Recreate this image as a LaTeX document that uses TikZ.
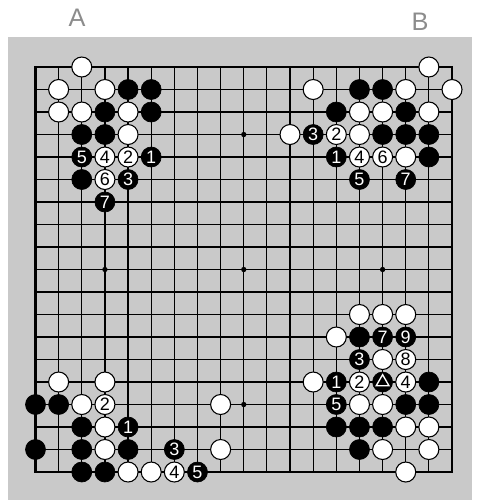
\documentclass[tikz,border=0pt]{standalone}
\usepackage{fontspec}
\setmainfont{Liberation Sans}
\usepackage{tikz}
\usetikzlibrary{shapes.geometric}

\begin{document}
\begin{tikzpicture}[
  x=17.355pt, y=-16.875pt,
  stone/.style={circle, minimum size=15pt, inner sep=0pt, font=\fontsize{13.5}{13.5}\selectfont},
  wst/.style={stone, draw=black, line width=0.8pt, fill=white},
  bst/.style={stone, draw=black, line width=0.5pt, fill=black, text=white},
  hoshi/.style={circle, fill=black, inner sep=0pt, minimum size=4pt},
  lbl/.style={font=\fontsize{19}{19}\selectfont, text=black!45},
]
\useasboundingbox (-0.534,-1.978) rectangle (20.166,20.244);
\fill[black!21] (-0.188,-0.333) rectangle (19.864,20.244);
% board
\foreach \i in {1,...,19} {
  \draw[line width=0.9pt] (\i,1) -- (\i,19);
  \draw[line width=0.9pt] (1,\i) -- (19,\i);
}
\draw[line width=1.6pt] (1,1) rectangle (19,19);
\foreach \c/\r in {4/4,10/4,16/4,4/10,10/10,16/10,4/16,10/16,16/16}
  \node[hoshi] (h\c-\r) at (\c,\r) {};
\node[lbl] (diaA) at (2.793,-1.178) {A};
\node[lbl] (diaB) at (17.616,-1.0) {B};
% plain stones
\foreach \c/\r in {5/2,6/2,4/3,6/3,3/4,4/4,3/6,
                   15/2,16/2,14/3,17/3,16/4,17/4,18/4,18/5,
                   1/16,2/16,3/17,1/18,3/18,5/18,3/19,4/19,
                   15/13,18/15,17/16,18/16,14/17,15/17,16/17,15/18}
  \node[bst] (b\c-\r) at (\c,\r) {};
\foreach \c/\r in {3/1,2/2,4/2,2/3,3/3,5/3,5/4,
                   18/1,13/2,17/2,19/2,15/3,16/3,18/3,12/4,15/4,17/5,
                   2/15,4/15,3/16,9/16,4/17,4/18,9/18,5/19,6/19,
                   15/12,16/12,17/12,14/13,16/14,13/15,15/16,16/16,17/17,18/17,16/18,18/18,17/19}
  \node[wst] (w\c-\r) at (\c,\r) {};
% A, upper left
\node[bst] (tl1) at (6,5) {1};
\node[wst] (tl2) at (5,5) {2};
\node[bst] (tl3) at (5,6) {3};
\node[wst] (tl4) at (4,5) {4};
\node[bst] (tl5) at (3,5) {5};
\node[wst] (tl6) at (4,6) {6};
\node[bst] (tl7) at (4,7) {7};
% B, upper right
\node[bst] (tr1) at (14,5) {1};
\node[wst] (tr2) at (14,4) {2};
\node[bst] (tr3) at (13,4) {3};
\node[wst] (tr4) at (15,5) {4};
\node[bst] (tr5) at (15,6) {5};
\node[wst] (tr6) at (16,5) {6};
\node[bst] (tr7) at (17,6) {7};
% lower left
\node[bst] (bl1) at (5,17) {1};
\node[wst] (bl2) at (4,16) {2};
\node[bst] (bl3) at (7,18) {3};
\node[wst] (bl4) at (7,19) {4};
\node[bst] (bl5) at (8,19) {5};
% lower right
\node[bst] (br0) at (16,15) {};
\node[regular polygon, regular polygon sides=3, draw=white, line width=1pt, inner sep=0pt, minimum size=11pt] (tri) at (16,15) {};
\node[bst] (br1) at (14,15) {1};
\node[wst] (br2) at (15,15) {2};
\node[bst] (br3) at (15,14) {3};
\node[wst] (br4) at (17,15) {4};
\node[bst] (br5) at (14,16) {5};
\node[bst] (br7) at (16,13) {7};
\node[wst] (br8) at (17,14) {8};
\node[bst] (br9) at (17,13) {9};
\end{tikzpicture}
\end{document}
